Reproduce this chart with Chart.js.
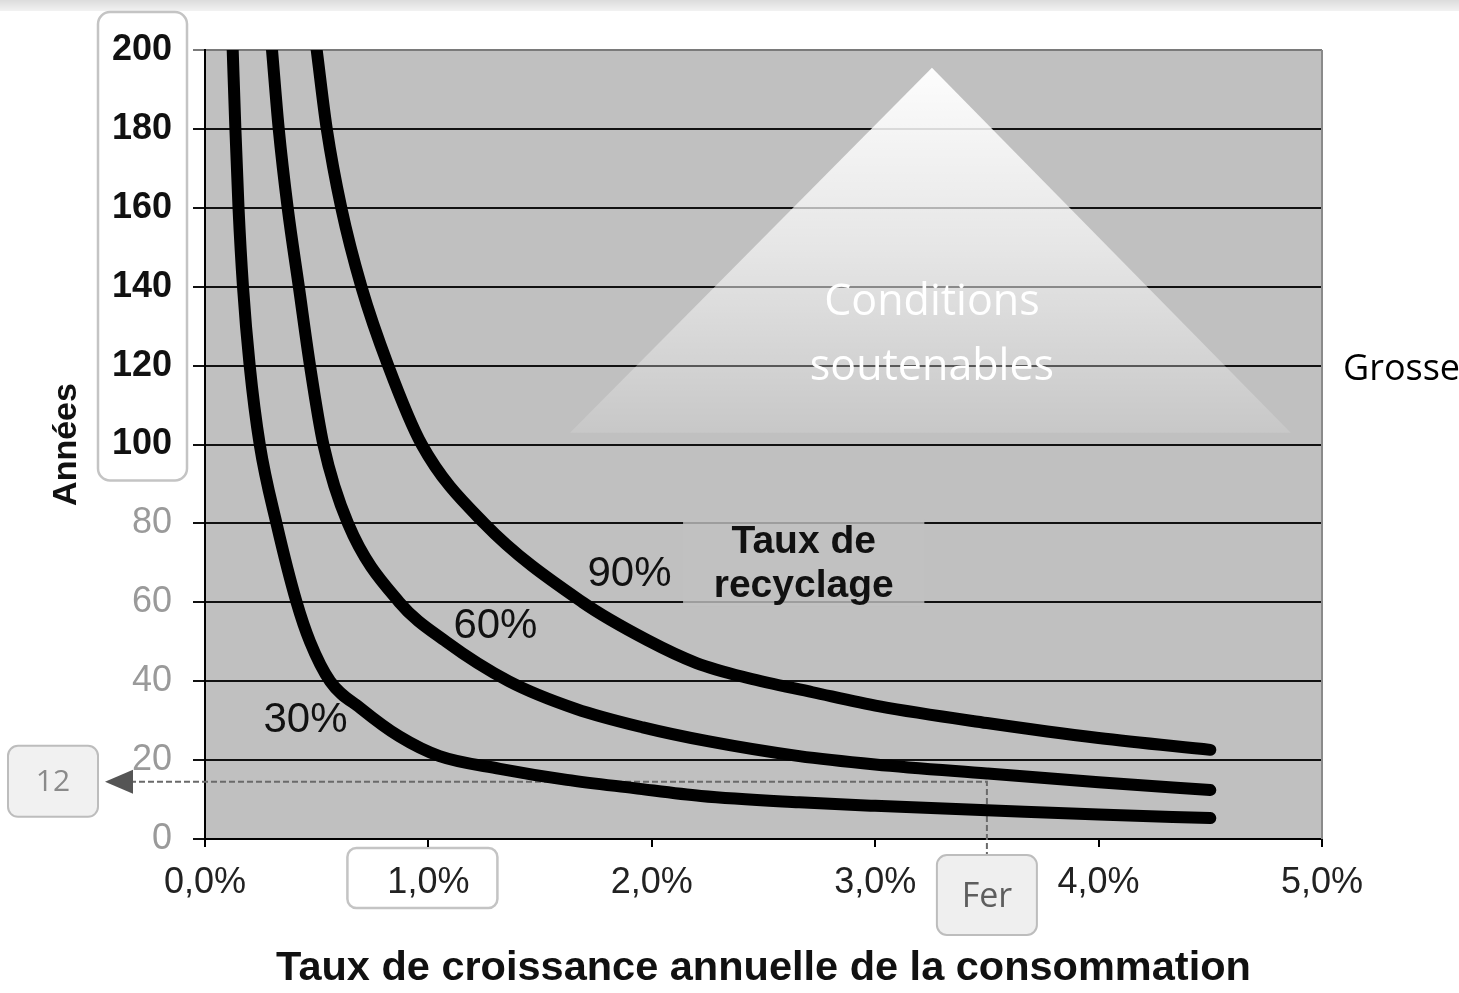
<!DOCTYPE html>
<html><head><meta charset="utf-8">
<script src="https://cdn.jsdelivr.net/npm/chart.js@4.4.1/dist/chart.umd.min.js"></script>
<style>html,body{margin:0;padding:0;background:#fff;overflow:hidden}canvas{display:block}</style>
</head><body>
<canvas id="c" width="1459" height="993"></canvas>
<script>
// ---- data (growth rate in %, lifetime in years) ----
const rate30  = [0.124,0.136,0.15,0.17,0.20,0.245,0.32,0.41,0.47,0.56,0.70,0.87,1.05,1.32,1.62,1.92,2.22,2.66,3.0,3.5,4.0,4.5];
const years30 = [200,180,160,140,120,100,80,60,50,40,33,26,21,17.8,15,12.9,10.9,9.3,8.4,7.3,6.2,5.3];
const rate60  = [0.30,0.33,0.37,0.42,0.47,0.53,0.64,0.87,1.08,1.36,1.66,1.96,2.25,2.66,3.0,3.5,4.0,4.5];
const years60 = [200,180,160,140,120,100,80,60,50,40,33,28.3,24.8,21.0,18.9,16.6,14.4,12.4];
const rate90  = [0.50,0.545,0.61,0.70,0.82,0.97,1.25,1.69,1.98,2.2,2.43,2.72,3.02,3.5,4.0,4.5];
const years90 = [200,180,160,140,120,100,80,60,50.4,44.6,40.8,37.2,33.6,29.4,25.6,22.6];
const seriesLabels = ['30%','60%','90%'];
const labelPos = [[0.45,30],[1.30,54],[1.90,67]];
const xTicks = [0,1,2,3,4,5];
const yTicks = [0,20,40,60,80,100,120,140,160,180,200];
const ferRate = 3.5, ferYears = 14.5, ferText = 'Fer', ferValueText = '12';
const pyramid = [[3.254,195.5],[1.634,103],[4.86,103]];

const toPts = (xs, ys) => xs.map((x,i)=>({x, y: ys[i]}));

const mk = (xs, ys) => ({
  data: toPts(xs, ys), borderColor:'#000', borderWidth:12, pointRadius:0,
  cubicInterpolationMode:'monotone', borderCapStyle:'round', borderJoinStyle:'round',
  fill:false, clip:0
});

const tv = c => (c && c.tick && typeof c.tick.value === 'number') ? c.tick.value : 0;

const deco = {
  id:'deco',
  beforeDraw(chart){
    const ctx = chart.ctx, ca = chart.chartArea, xs = chart.scales.x, ys = chart.scales.y;
    ctx.save();
    const g = ctx.createLinearGradient(0,0,0,12);
    g.addColorStop(0,'#dcdcdc'); g.addColorStop(1,'#f4f4f4');
    ctx.fillStyle = g; ctx.fillRect(0,0,chart.width,11);
    ctx.fillStyle = '#c0c0c0';
    ctx.fillRect(ca.left, ca.top, ca.right-ca.left, ca.bottom-ca.top);
    const rr = (x,y,w,h,r,fill,stroke,lw)=>{
      ctx.beginPath(); ctx.roundRect(x,y,w,h,r);
      if(fill){ctx.fillStyle=fill;ctx.fill();}
      if(stroke){ctx.strokeStyle=stroke;ctx.lineWidth=lw;ctx.stroke();}
    };
    rr(ca.left-107, ys.getPixelForValue(200)-38, 89, ys.getPixelForValue(100)-ys.getPixelForValue(200)+74, 12, '#fff', '#c4c4c4', 2.5);
    const x1 = xs.getPixelForValue(1);
    rr(x1-81, ca.bottom+9, 150, 60, 9, '#fff', '#c4c4c4', 2.5);
    ctx.restore();
  },
  beforeDatasetsDraw(chart){
    const ctx = chart.ctx, ca = chart.chartArea, xs = chart.scales.x, ys = chart.scales.y;
    ctx.save();
    const P = pyramid.map(p=>[xs.getPixelForValue(p[0]), ys.getPixelForValue(p[1])]);
    const g = ctx.createLinearGradient(0,P[0][1],0,P[1][1]);
    g.addColorStop(0,'rgba(255,255,255,0.97)');
    g.addColorStop(0.5,'rgba(255,255,255,0.6)');
    g.addColorStop(1,'rgba(255,255,255,0.12)');
    ctx.beginPath(); ctx.moveTo(P[0][0],P[0][1]); ctx.lineTo(P[1][0],P[1][1]); ctx.lineTo(P[2][0],P[2][1]); ctx.closePath();
    ctx.fillStyle = g; ctx.fill();
    ctx.fillStyle = '#ffffff';
    ctx.font = '43px "Open Sans"'; ctx.textAlign='center'; ctx.textBaseline='middle';
    ctx.fillText('Conditions', P[0][0], ys.getPixelForValue(136));
    ctx.fillText('soutenables', P[0][0], ys.getPixelForValue(119.5));
    const bx0 = xs.getPixelForValue(2.14), bx1 = xs.getPixelForValue(3.22);
    ctx.fillStyle = 'rgba(192,192,192,0.8)';
    ctx.fillRect(bx0, ys.getPixelForValue(81), bx1-bx0, ys.getPixelForValue(59)-ys.getPixelForValue(81));
    const fx = xs.getPixelForValue(ferRate), fy = ys.getPixelForValue(ferYears);
    ctx.strokeStyle = '#6a6a6a'; ctx.lineWidth = 2; ctx.setLineDash([6,3]);
    ctx.beginPath(); ctx.moveTo(ca.left-75, fy); ctx.lineTo(fx, fy); ctx.lineTo(fx, ca.bottom+16); ctx.stroke();
    ctx.setLineDash([]);
    ctx.restore();
  },
  afterDatasetsDraw(chart){
    const ctx = chart.ctx, ca = chart.chartArea, xs = chart.scales.x, ys = chart.scales.y;
    ctx.save();
    ctx.textAlign='center'; ctx.textBaseline='middle';
    ctx.fillStyle = '#111'; ctx.font = '42px "Liberation Sans"';
    seriesLabels.forEach((t,i)=>ctx.fillText(t, xs.getPixelForValue(labelPos[i][0]), ys.getPixelForValue(labelPos[i][1])));
    ctx.font = 'bold 39px "Liberation Sans"';
    ctx.fillText('Taux de', xs.getPixelForValue(2.68), ys.getPixelForValue(75.3));
    ctx.fillText('recyclage', xs.getPixelForValue(2.68), ys.getPixelForValue(64));
    ctx.strokeStyle = '#8a8a8a'; ctx.lineWidth = 2;
    ctx.beginPath(); ctx.moveTo(ca.right, ca.top); ctx.lineTo(ca.right, ca.bottom); ctx.stroke();
    const fx = xs.getPixelForValue(ferRate), fy = ys.getPixelForValue(ferYears);
    ctx.beginPath(); ctx.roundRect(fx-50, ca.bottom+16, 100, 80, 10);
    ctx.fillStyle = '#efefef'; ctx.fill(); ctx.strokeStyle = '#bdbdbd'; ctx.lineWidth = 2; ctx.stroke();
    ctx.fillStyle = '#5e5e5e'; ctx.font = '34px "Open Sans"';
    ctx.fillText(ferText, fx, ca.bottom+58);
    ctx.beginPath(); ctx.roundRect(8, fy-36, 90, 71, 10);
    ctx.fillStyle = '#f1f1f1'; ctx.fill(); ctx.strokeStyle = '#bdbdbd'; ctx.stroke();
    ctx.fillStyle = '#8a8a8a'; ctx.font = '30px "Open Sans"';
    ctx.fillText(ferValueText, 53, fy+1);
    ctx.fillStyle = '#555';
    ctx.beginPath(); ctx.moveTo(105, fy); ctx.lineTo(133, fy-12); ctx.lineTo(133, fy+12); ctx.closePath(); ctx.fill();
    ctx.textAlign='left'; ctx.fillStyle='#000'; ctx.font = '36px "Open Sans"';
    ctx.fillText('Grosse', ca.right+21, ys.getPixelForValue(119));
    ctx.restore();
  }
};

new Chart(document.getElementById('c'), {
  type:'line',
  data:{ datasets:[mk(rate30,years30), mk(rate60,years60), mk(rate90,years90)] },
  options:{
    responsive:false, animation:false, devicePixelRatio:1,
    layout:{padding:{left:0, top:50, right:137, bottom:0}},
    plugins:{legend:{display:false}, tooltip:{enabled:false}},
    scales:{
      x:{ type:'linear', min:0, max:5,
        afterBuildTicks: s => { s.ticks = xTicks.map(v=>({value:v})); },
        afterFit: s => { s.height = 154; },
        grid:{ drawOnChartArea:false, drawTicks:true, tickLength:8, color:'#000', lineWidth:2 },
        border:{ color:'#000', width:2 },
        ticks:{ color:'#222', padding:14, font:{family:'"Liberation Sans"', size:36},
          callback: v => v.toFixed(1).replace('.',',') + '%' },
        title:{ display:true, text:'Taux de croissance annuelle de la consommation', color:'#111',
          font:{family:'"Liberation Sans"', size:41.5, weight:'bold'}, padding:{top:0,bottom:0} }
      },
      y:{ type:'linear', min:0, max:200,
        afterBuildTicks: s => { s.ticks = yTicks.map(v=>({value:v})); },
        afterFit: s => { s.width = 205; },
        grid:{ color: c => tv(c) === 200 ? '#7a7a7a' : '#111', lineWidth:2, tickLength:12, drawTicks:true },
        border:{ color:'#000', width:2 },
        ticks:{ padding:21,
          color: c => tv(c) >= 100 ? '#111' : '#9a9a9a',
          font: c => ({family:'"Liberation Sans"', size:36, weight: tv(c) >= 100 ? 'bold' : 'normal'}) },
        title:{ display:true, text:'Années', color:'#111',
          font:{family:'"Liberation Sans"', size:34, weight:'bold'}, padding:{top:46,bottom:0} }
      }
    }
  },
  plugins:[deco]
});
</script>
</body></html>
